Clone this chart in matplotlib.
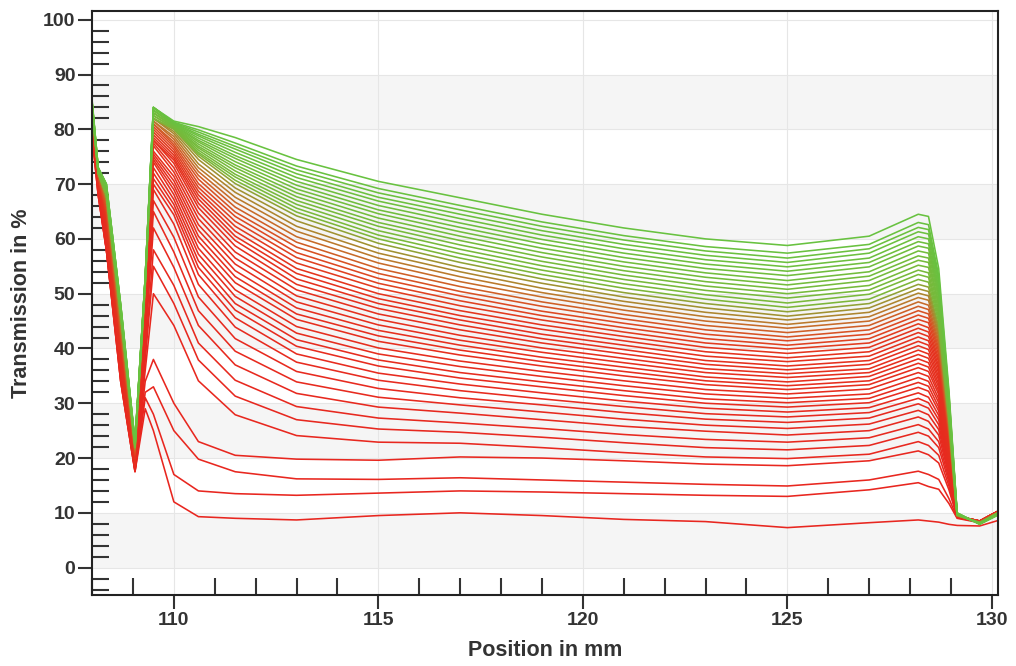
import numpy as np
import matplotlib
matplotlib.use('Agg')
import matplotlib.pyplot as plt
from matplotlib.colors import LinearSegmentedColormap
from matplotlib.ticker import MultipleLocator

plt.rcParams['font.family'] = ['Liberation Sans', 'DejaVu Sans']
plt.rcParams['font.weight'] = 'bold'

position_mm = [108.0, 108.15, 108.35, 108.7, 109.05, 109.3, 109.5, 110.0, 110.6, 111.5,
               113.0, 115.0, 117.0, 119.0, 121.0, 123.0, 125.0, 127.0, 128.2, 128.45,
               128.7, 128.95, 129.15, 129.7, 130.15]

# transmission profiles in %, first (red) to last (green)
profiles = [
    [79, 68, 58, 34, 17.5, 29, 25, 12.0, 9.3, 9.0, 8.7, 9.5, 10.0, 9.5, 8.8, 8.4, 7.3, 8.2, 8.7, 8.5, 8.3, 7.9, 7.7, 7.6, 8.6],
    [79, 68, 58, 34, 17.5, 31, 28, 17.0, 14.0, 13.5, 13.2, 13.6, 14.0, 13.8, 13.5, 13.2, 13.0, 14.2, 15.5, 14.8, 14.3, 11.7, 9.0, 8.2, 9.8],
    [79, 68, 58, 34, 17.6, 32, 33, 25.0, 19.8, 17.5, 16.2, 16.1, 16.4, 16.0, 15.6, 15.2, 14.9, 16.0, 17.6, 17.0, 16.1, 12.6, 9.1, 8.3, 9.9],
    [80, 69, 58, 35, 17.8, 34, 38, 30.0, 23.0, 20.5, 19.8, 19.6, 20.2, 20.0, 19.5, 18.9, 18.6, 19.5, 21.3, 20.6, 19.1, 14.2, 9.2, 8.4, 10.0],
    [80, 69, 59, 35, 18.0, 36, 50, 44.2, 34.1, 27.9, 24.1, 22.9, 22.7, 21.9, 21.0, 20.2, 19.9, 20.7, 23.0, 22.3, 20.5, 14.9, 9.2, 8.4, 10.1],
    [80, 69, 59, 35, 18.0, 38, 55, 48.2, 37.9, 31.3, 27.0, 25.3, 24.7, 23.8, 22.8, 21.9, 21.5, 22.3, 24.7, 24.0, 21.9, 15.6, 9.3, 8.4, 10.1],
    [80, 69, 59, 35, 18.0, 39, 58, 51.5, 41.0, 34.2, 29.4, 27.3, 26.4, 25.4, 24.3, 23.4, 22.9, 23.7, 26.1, 25.3, 23.0, 16.2, 9.3, 8.5, 10.2],
    [80, 70, 59, 35.5, 18.2, 41, 62, 54.8, 44.2, 37.0, 31.8, 29.3, 28.2, 27.0, 25.8, 24.9, 24.2, 25.0, 27.5, 26.7, 24.2, 16.8, 9.3, 8.5, 10.2],
    [80, 70, 60, 35.5, 18.3, 42, 65, 57.6, 46.9, 39.5, 33.9, 31.1, 29.7, 28.4, 27.1, 26.0, 25.4, 26.2, 28.7, 27.9, 25.2, 17.3, 9.4, 8.5, 10.2],
    [80, 70, 60, 36, 18.4, 43, 67, 60.3, 49.4, 41.8, 35.8, 32.7, 31.0, 29.7, 28.3, 27.1, 26.5, 27.3, 29.9, 29.1, 26.1, 17.8, 9.4, 8.5, 10.3],
    [80, 70, 60, 36, 18.5, 44, 69, 62.7, 51.7, 43.9, 37.5, 34.2, 32.3, 30.8, 29.4, 28.1, 27.5, 28.3, 30.9, 30.1, 27.0, 18.2, 9.4, 8.5, 10.3],
    [80, 70, 60, 36, 18.5, 45, 70, 64.4, 53.5, 45.6, 39.0, 35.5, 33.5, 31.9, 30.4, 29.1, 28.4, 29.2, 31.9, 31.1, 27.8, 18.6, 9.4, 8.5, 10.3],
    [80, 70, 60.5, 36.5, 18.6, 45.5, 71, 65.4, 54.8, 47.0, 40.4, 36.8, 34.6, 33.0, 31.4, 30.0, 29.3, 30.1, 32.9, 32.2, 28.6, 19.0, 9.4, 8.5, 10.3],
    [80.5, 70, 60.5, 36.5, 18.7, 46, 72, 66.3, 56.0, 48.2, 41.6, 37.9, 35.6, 33.9, 32.3, 30.8, 30.1, 30.9, 33.8, 33.1, 29.3, 19.4, 9.4, 8.5, 10.3],
    [80.5, 70, 61, 37, 18.8, 46.5, 73, 67.2, 57.2, 49.5, 42.8, 39.0, 36.7, 34.9, 33.2, 31.7, 30.9, 31.7, 34.7, 34.0, 30.1, 19.8, 9.4, 8.5, 10.3],
    [80.5, 70, 61, 37, 18.9, 47, 74, 68.1, 58.3, 50.7, 44.0, 40.1, 37.7, 35.8, 34.1, 32.5, 31.7, 32.6, 35.6, 34.9, 30.8, 20.2, 9.4, 8.5, 10.3],
    [81, 70.5, 61.5, 37.5, 19.0, 47.5, 74.5, 69.0, 59.5, 52.0, 45.3, 41.3, 38.8, 36.8, 35.0, 33.4, 32.5, 33.4, 36.5, 35.8, 31.6, 20.6, 9.4, 8.5, 10.3],
    [81, 70.5, 61.5, 37.5, 19.1, 48, 75, 69.8, 60.5, 53.1, 46.3, 42.3, 39.7, 37.6, 35.8, 34.1, 33.2, 34.1, 37.3, 36.6, 32.2, 20.9, 9.4, 8.5, 10.3],
    [81, 70.5, 62, 38, 19.2, 48.5, 75.5, 70.6, 61.6, 54.2, 47.4, 43.3, 40.6, 38.4, 36.6, 34.8, 33.9, 34.9, 38.1, 37.4, 32.9, 21.2, 9.4, 8.5, 10.3],
    [81.5, 70.5, 62, 38.5, 19.4, 49, 76, 71.4, 62.6, 55.4, 48.5, 44.3, 41.5, 39.3, 37.4, 35.6, 34.7, 35.6, 38.9, 38.2, 33.5, 21.6, 9.4, 8.4, 10.2],
    [81.5, 71, 62.5, 39, 19.5, 49, 77, 72.2, 63.7, 56.5, 49.6, 45.3, 42.4, 40.1, 38.2, 36.3, 35.4, 36.3, 39.7, 39.0, 34.2, 21.9, 9.4, 8.4, 10.2],
    [81.5, 71, 62.5, 39.5, 19.7, 49.5, 77.5, 73.0, 64.7, 57.6, 50.7, 46.3, 43.4, 41.0, 39.0, 37.1, 36.1, 37.1, 40.5, 39.8, 34.8, 22.2, 9.4, 8.4, 10.2],
    [82, 71, 63, 40, 19.9, 50, 78, 73.8, 65.7, 58.7, 51.7, 47.3, 44.3, 41.8, 39.8, 37.8, 36.8, 37.8, 41.3, 40.6, 35.5, 22.6, 9.4, 8.4, 10.2],
    [82, 71, 63, 40, 20.0, 50, 78, 74.4, 66.5, 59.7, 52.7, 48.2, 45.2, 42.6, 40.6, 38.6, 37.6, 38.6, 42.1, 41.4, 36.2, 22.9, 9.4, 8.4, 10.2],
    [82, 71, 63.5, 40.5, 20.1, 50, 78.5, 74.8, 67.3, 60.5, 53.7, 49.1, 46.0, 43.5, 41.4, 39.4, 38.3, 39.4, 42.9, 42.2, 36.8, 23.3, 9.4, 8.4, 10.2],
    [82.5, 71, 64, 41, 20.3, 50.5, 79, 75.3, 68.0, 61.4, 54.6, 50.0, 46.9, 44.3, 42.2, 40.2, 39.1, 40.2, 43.7, 43.0, 37.5, 23.6, 9.4, 8.4, 10.1],
    [82.5, 71.5, 64.5, 41.5, 20.5, 50.5, 79.5, 75.8, 68.7, 62.3, 55.6, 51.0, 47.8, 45.2, 43.0, 41.0, 39.9, 41.0, 44.5, 43.8, 38.1, 24.0, 9.5, 8.3, 10.1],
    [82.5, 71.5, 65, 42, 20.7, 51, 80, 76.3, 69.4, 63.2, 56.6, 51.9, 48.7, 46.0, 43.8, 41.8, 40.6, 41.8, 45.3, 44.7, 38.8, 24.3, 9.5, 8.3, 10.1],
    [83, 71.5, 65.5, 42.5, 20.9, 51, 80.5, 76.8, 70.1, 64.1, 57.5, 52.8, 49.6, 46.8, 44.6, 42.6, 41.4, 42.6, 46.1, 45.5, 39.5, 24.6, 9.5, 8.3, 10.1],
    [83, 71.5, 66, 43, 21.1, 51, 81, 77.2, 70.9, 64.9, 58.5, 53.7, 50.4, 47.7, 45.4, 43.4, 42.1, 43.4, 46.9, 46.3, 40.1, 25.0, 9.5, 8.3, 10.1],
    [83, 72, 66.5, 43.5, 21.3, 51.5, 81, 77.7, 71.6, 65.8, 59.4, 54.6, 51.3, 48.5, 46.2, 44.2, 42.9, 44.2, 47.7, 47.1, 40.8, 25.3, 9.5, 8.3, 10.1],
    [83.5, 72, 67, 44, 21.5, 51.5, 81.5, 78.2, 72.3, 66.7, 60.4, 55.6, 52.2, 49.4, 47.0, 45.0, 43.7, 45.0, 48.5, 47.9, 41.4, 25.6, 9.5, 8.2, 10.0],
    [83.5, 72, 67, 44.5, 21.6, 51.5, 81.5, 78.7, 73.0, 67.6, 61.4, 56.5, 53.1, 50.2, 47.8, 45.8, 44.4, 45.8, 49.3, 48.8, 42.1, 25.9, 9.5, 8.2, 10.0],
    [83.5, 72, 67.5, 45, 21.7, 52, 82, 79.2, 73.7, 68.5, 62.3, 57.4, 54.0, 51.0, 48.6, 46.6, 45.2, 46.6, 50.1, 49.6, 42.7, 26.3, 9.5, 8.2, 10.0],
    [84, 72, 67.5, 45.5, 21.8, 52, 82, 79.6, 74.5, 69.3, 63.3, 58.3, 54.8, 51.9, 49.4, 47.4, 45.9, 47.4, 50.9, 50.4, 43.4, 26.6, 9.6, 8.2, 10.0],
    [84, 72, 68, 46, 22.0, 52, 82, 80.0, 75.1, 70.1, 64.2, 59.2, 55.7, 52.7, 50.2, 48.2, 46.7, 48.2, 51.7, 51.2, 44.0, 26.9, 9.6, 8.2, 10.0],
    [84, 72, 68, 46, 22.0, 52, 82, 80.1, 75.5, 70.7, 64.9, 60.0, 56.5, 53.5, 51.0, 49.0, 47.5, 49.0, 52.6, 52.1, 44.8, 27.3, 9.6, 8.2, 10.0],
    [84, 72, 68, 46, 22.0, 52, 82.5, 80.2, 75.8, 71.3, 65.6, 60.7, 57.3, 54.3, 51.8, 49.8, 48.3, 49.9, 53.5, 53.0, 45.5, 27.7, 9.6, 8.1, 10.0],
    [84, 72, 68.5, 46.5, 22.1, 52, 82.5, 80.3, 76.2, 71.8, 66.3, 61.5, 58.1, 55.1, 52.6, 50.6, 49.2, 50.7, 54.3, 53.8, 46.2, 28.0, 9.7, 8.1, 9.9],
    [84, 72.5, 68.5, 46.5, 22.2, 52.5, 83, 80.4, 76.6, 72.4, 67.0, 62.3, 58.9, 55.9, 53.4, 51.4, 50.0, 51.5, 55.2, 54.8, 46.9, 28.4, 9.7, 8.1, 9.9],
    [84.5, 72.5, 68.5, 47, 22.3, 52.5, 83, 80.5, 76.9, 73.0, 67.7, 63.0, 59.7, 56.7, 54.2, 52.2, 50.8, 52.4, 56.1, 55.7, 47.7, 28.8, 9.7, 8.1, 9.9],
    [84.5, 72.5, 69, 47, 22.4, 52.5, 83, 80.6, 77.3, 73.5, 68.4, 63.8, 60.5, 57.5, 55.0, 53.0, 51.6, 53.2, 56.9, 56.5, 48.3, 29.1, 9.7, 8.1, 9.9],
    [84.5, 72.5, 69, 47, 22.5, 52.5, 83.5, 80.7, 77.7, 74.1, 69.1, 64.6, 61.3, 58.3, 55.8, 53.8, 52.4, 54.0, 57.8, 57.4, 49.1, 29.5, 9.8, 8.0, 9.8],
    [84.5, 72.5, 69, 47.5, 22.6, 53, 83.5, 80.8, 78.0, 74.7, 69.8, 65.3, 62.1, 59.1, 56.6, 54.6, 53.3, 54.9, 58.7, 58.3, 49.8, 29.9, 9.8, 8.0, 9.8],
    [85, 73, 69.5, 47.5, 22.7, 53, 83.5, 80.9, 78.4, 75.2, 70.5, 66.1, 62.9, 59.9, 57.4, 55.4, 54.1, 55.7, 59.5, 59.1, 50.5, 30.2, 9.8, 8.0, 9.8],
    [85, 73, 69.5, 47.5, 22.8, 53, 84, 81.0, 78.8, 75.8, 71.2, 66.9, 63.7, 60.7, 58.2, 56.2, 54.9, 56.5, 60.4, 60.0, 51.2, 30.6, 9.9, 8.0, 9.7],
    [85, 73, 70, 48, 22.9, 53, 84, 81.1, 79.1, 76.4, 71.9, 67.6, 64.5, 61.5, 59.0, 57.0, 55.7, 57.4, 61.3, 60.9, 52.0, 31.0, 9.9, 8.0, 9.7],
    [85, 73, 70, 48, 23.0, 53, 84, 81.2, 79.5, 76.9, 72.6, 68.4, 65.3, 62.3, 59.8, 57.8, 56.5, 58.2, 62.1, 61.7, 52.6, 31.3, 9.9, 8.0, 9.7],
    [85, 73, 70, 48, 23.0, 53, 84, 81.3, 79.9, 77.5, 73.3, 69.2, 66.1, 63.1, 60.6, 58.6, 57.4, 59.0, 63.0, 62.6, 53.3, 31.7, 10.0, 7.9, 9.6],
    [85.5, 73, 70, 48, 23.0, 53, 84, 81.5, 80.5, 78.5, 74.5, 70.5, 67.5, 64.5, 62.0, 60.0, 58.8, 60.5, 64.5, 64.1, 54.6, 32.3, 10.0, 7.9, 9.6],
]

fig = plt.figure(figsize=(10.16, 6.66), dpi=100)
ax = fig.add_axes([0.0906, 0.1066, 0.8917, 0.8769])

# light grey bands every other 10 %
for lo in [0, 20, 40, 60, 80]:
    ax.axhspan(lo, lo + 10, color='#f5f5f5', lw=0, zorder=0)

cmap = LinearSegmentedColormap.from_list('red_green', [
    (0.0, '#e8261f'), (0.50, '#e5321e'), (0.58, '#dc4a22'), (0.64, '#c4702a'),
    (0.69, '#a38e30'), (0.74, '#7ab83a'), (1.0, '#68c240')])

n = len(profiles)
for i, prof in enumerate(profiles):
    ax.plot(position_mm, prof, color=cmap(i / (n - 1)), lw=1.15, zorder=2)

ax.set_xlim(108, 130.15)
ax.set_ylim(-5, 101.6)
ax.xaxis.set_major_locator(MultipleLocator(5))
ax.xaxis.set_minor_locator(MultipleLocator(1))
ax.yaxis.set_major_locator(MultipleLocator(10))
ax.yaxis.set_minor_locator(MultipleLocator(2))

ax.grid(True, which='major', color='#e6e6e6', lw=0.8)
ax.set_axisbelow(True)

ax.tick_params(which='major', direction='out', length=10, width=1.5,
               color='#333333', labelcolor='#333333', labelsize=14, pad=2)
ax.tick_params(which='minor', direction='in', length=12, width=1.5, color='#333333')
for s in ax.spines.values():
    s.set_color('#222222')
    s.set_linewidth(1.5)

ax.set_xlabel('Position in mm', fontsize=15.5, fontweight='bold', color='#333333', labelpad=8)
ax.set_ylabel('Transmission in %', fontsize=15.5, fontweight='bold', color='#333333', labelpad=8)

fig.savefig('out.png', dpi=100)
